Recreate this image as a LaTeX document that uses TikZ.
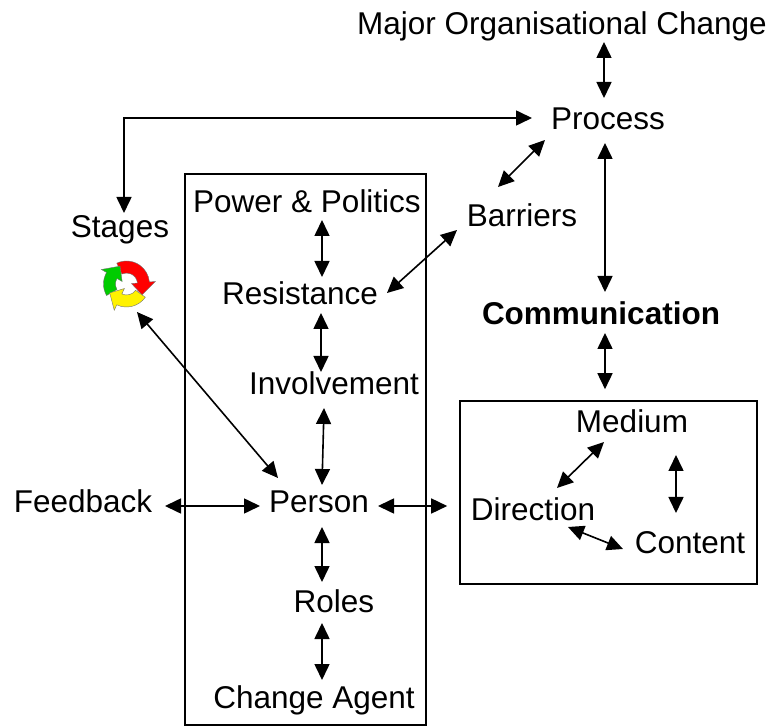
\documentclass[tikz,border=0pt]{standalone}
\usepackage{fontspec}
\setmainfont{Liberation Sans}
\usetikzlibrary{arrows.meta}
\definecolor{cycgreen}{RGB}{0,204,0}
\tikzset{
  lbl/.style={inner sep=0pt, anchor=base, font=\fontsize{31.5}{36}\selectfont},
  dbl/.style={line width=1.6pt, {Triangle[length=16pt,width=15pt]}-{Triangle[length=16pt,width=15pt]}},
  boxframe/.style={draw, line width=1.6pt, inner sep=0pt},
  cyc/.style={draw=black!55, line width=0.4pt}
}
\begin{document}
\begin{tikzpicture}[x=1pt,y=-1pt]
\useasboundingbox (0,0) rectangle (772,727);
% frames
\node[boxframe, minimum width=241pt, minimum height=551pt] (pbox) at (305.5,449.5) {};
\node[boxframe, minimum width=297pt, minimum height=183pt] (cbox) at (608.5,492.5) {};
% labels
\node[lbl] (moc) at (562,35) {Major Organisational Change};
\node[lbl] (proc) at (608,130) {Process};
\node[lbl] (stages) at (120,238) {Stages};
\node[lbl] (barr) at (522,227) {Barriers};
\node[lbl] (pp) at (307,213) {Power \& Politics};
\node[lbl] (res) at (300,305) {Resistance};
\node[lbl, font=\fontsize{31.5}{36}\selectfont\bfseries] (comm) at (601,325) {Communication};
\node[lbl] (inv) at (334,395) {Involvement};
\node[lbl] (person) at (319,513) {Person};
\node[lbl] (feed) at (83,513) {Feedback};
\node[lbl] (roles) at (334,612) {Roles};
\node[lbl] (agent) at (314,708) {Change Agent};
\node[lbl] (medium) at (632,433) {Medium};
\node[lbl] (dir) at (533,521) {Direction};
\node[lbl] (content) at (690,553) {Content};
% cycle icon
\coordinate (icon) at (126.5,284);
\begin{scope}[shift={(126.5,284)}, x=1pt, y=1pt]
  \fill[cyc, fill=red] (115:23) arc[start angle=115, end angle=5, radius=23] -- (5:29) -- (-35:19) -- (5:5) -- (5:11) arc[start angle=5, end angle=115, radius=11] -- cycle;
  \fill[cyc, fill=cycgreen] (-150:23) arc[start angle=-150, end angle=-210, radius=23] -- (-210:29) -- (-250:19) -- (-210:5) -- (-210:11) arc[start angle=-210, end angle=-150, radius=11] -- cycle;
  \fill[cyc, fill=yellow] (-35:23) arc[start angle=-35, end angle=-115, radius=23] -- (-115:29) -- (-152:19) -- (-115:5) -- (-115:11) arc[start angle=-115, end angle=-35, radius=11] -- cycle;
\end{scope}
% connectors
\draw[dbl] ([shift={(42,7)}]moc.base) -- ([shift={(-4,-32)}]proc.base);
\draw[dbl] ([shift={(-76,-12)}]proc.base) -| ([shift={(4,-25)}]stages.base);
\draw[dbl] ([shift={(-63,10)}]proc.base) -- ([shift={(-24,-40)}]barr.base);
\draw[dbl] ([shift={(-3,13)}]proc.base) -- ([shift={(4,-33)}]comm.base);
\draw[dbl] ([shift={(4,8)}]comm.base) -- ([shift={(-3.5,-11)}]cbox.north);
\draw[dbl] ([shift={(-65,3)}]barr.base) -- ([shift={(87,-12)}]res.base);
\draw[dbl] ([shift={(15,7)}]pp.base) -- ([shift={(22,-28)}]res.base);
\draw[dbl] ([shift={(21,8)}]res.base) -- ([shift={(-13,-23)}]inv.base);
\draw[dbl] ([shift={(-10,13)}]inv.base) -- ([shift={(3,-28)}]person.base);
\draw[dbl] ([shift={(10.5,28)}]icon) -- ([shift={(-41,-35)}]person.base);
\draw[dbl] ([shift={(82,-7)}]feed.base) -- ([shift={(-59,-7)}]person.base);
\draw[dbl] ([shift={(59,-7)}]person.base) -- ([shift={(-12,13.5)}]cbox.west);
\draw[dbl] ([shift={(3,14)}]person.base) -- ([shift={(-12,-30)}]roles.base);
\draw[dbl] ([shift={(-12,11)}]roles.base) -- ([shift={(8,-28)}]agent.base);
\draw[dbl] ([shift={(-28,9)}]medium.base) -- ([shift={(24,-33)}]dir.base);
\draw[dbl] ([shift={(44,22)}]medium.base) -- ([shift={(-14,-40)}]content.base);
\draw[dbl] ([shift={(35,6)}]dir.base) -- ([shift={(-67,-4)}]content.base);
\end{tikzpicture}
\end{document}
